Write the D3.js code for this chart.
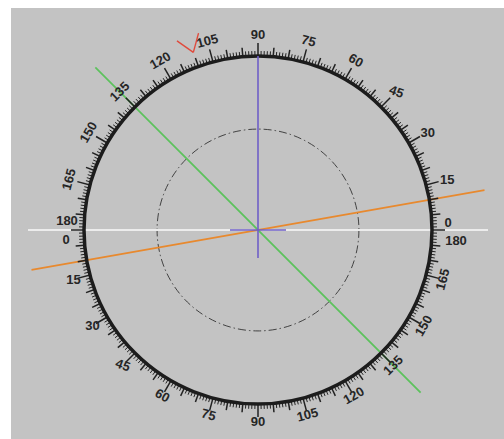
<!DOCTYPE html>
<html><head><meta charset="utf-8">
<script src="https://cdn.jsdelivr.net/npm/d3@7"></script>
<style>body{margin:0;background:#fff}svg{display:block}</style>
</head><body>
<script>
// ---- data ----
const topLabels = [0,15,30,45,60,75,90,105,120,135,150,165,180];
const bottomLabels = [0,15,30,45,60,75,90,105,120,135,150,165,180];
const rayNames = ["white","orange","green"];
const rayAngles = [0, 10, 135];          // degrees, lines through the centre
const pointerAngle = 110;                // red V marker
const innerCircleFraction = 0.58;        // dash-dot circle radius / scale radius

(function(){
const W = 504, H = 439;
const svg = d3.select("body").append("svg").attr("width", W).attr("height", H);
svg.append("rect").attr("x",11).attr("y",8).attr("width",W-11).attr("height",H-8).attr("fill","#c3c3c3");

const cx = 258, cy = 230, R = 174;
const ang = d3.scaleLinear().domain([0,360]).range([0, 2*Math.PI]);
const pt = (deg, r) => [cx + r*Math.cos(ang(deg)), cy - r*Math.sin(ang(deg))];
const g = svg.append("g");

// inner dash-dot circle
g.append("circle").attr("cx",cx).attr("cy",cy).attr("r",R*innerCircleFraction)
  .attr("fill","none").attr("stroke","#333").attr("stroke-width",0.9)
  .attr("stroke-dasharray","8,3,1.5,3");

// rays
const rayColors = {white:"#ececec", orange:"#e8892e", green:"#5cc25c"};
rayNames.forEach((n,i)=>{
  const a = rayAngles[i], L = 230;
  const p1 = pt(a, L), p2 = pt(a+180, L);
  g.append("line").attr("x1",p1[0]).attr("y1",p1[1]).attr("x2",p2[0]).attr("y2",p2[1])
   .attr("stroke",rayColors[n]).attr("stroke-width", n==="white"?2:1.7);
});

// scale ticks
const ticks = d3.range(0,360,1);
g.selectAll("line.tick").data(ticks).join("line").attr("class","tick")
  .each(function(d){
    const len = d%15===0 ? 13 : (d%5===0 ? 9 : 5);
    const a = pt(d, R), b = pt(d, R+len);
    d3.select(this).attr("x1",a[0]).attr("y1",a[1]).attr("x2",b[0]).attr("y2",b[1]);
  })
  .attr("stroke","#222").attr("stroke-width", d=>d%5===0?1.5:1);
g.append("circle").attr("cx",cx).attr("cy",cy).attr("r",R).attr("fill","none")
  .attr("stroke","#1c1c1c").attr("stroke-width",3.5);

// labels
const font = "bold 13px 'Liberation Sans', Arial, sans-serif";
function label(v, phi, rot, dx, dy, r){
  const p = pt(phi, r);
  g.append("text").attr("transform",`translate(${p[0]+dx},${p[1]+dy}) rotate(${rot})`)
   .attr("text-anchor","middle").attr("dy","0.35em").style("font",font)
   .attr("fill","#262626").text(v);
}
const rotFor = v => v < 90 ? Math.min(90 - v, Math.max(0, (v-30)*4/3)) : 90 - v;
topLabels.forEach(v=>{
  if (v===0) label(v, 0, 0, -4, -8, R+20);
  else if (v===180) label(v, 180, 0, 3, -10, R+20);
  else label(v, v, rotFor(v), 0, 0, R+22);
});
bottomLabels.forEach(v=>{
  const phi = 180 + v;
  if (v===0) label(v, phi, 0, 2, 9, R+20);
  else if (v===180) label(v, phi, 0, 4, 10, R+20);
  else label(v, phi, rotFor(v), 0, 0, R+17);
});

// purple cross
const purple = "#6f5fc7";
const pTop = pt(90, R), pBot = pt(270, 28), pL = pt(180, 28), pR = pt(0, 28);
g.append("line").attr("x1",pTop[0]).attr("y1",pTop[1]).attr("x2",pBot[0]).attr("y2",pBot[1]).attr("stroke",purple).attr("stroke-width",1.6);
g.append("line").attr("x1",pL[0]).attr("y1",pL[1]).attr("x2",pR[0]).attr("y2",pR[1]).attr("stroke",purple).attr("stroke-width",1.6);

// red V pointer
const v0 = pt(pointerAngle, R+15);
const armL = 20;
[35,-35].forEach(s=>{
  const dir = ang(pointerAngle + s);
  const ex = v0[0] + armL*Math.cos(dir), ey = v0[1] - armL*Math.sin(dir);
  g.append("line").attr("x1",v0[0]).attr("y1",v0[1]).attr("x2",ex).attr("y2",ey)
    .attr("stroke","#e04a3c").attr("stroke-width",1.4);
});
})();
</script>
</body></html>
